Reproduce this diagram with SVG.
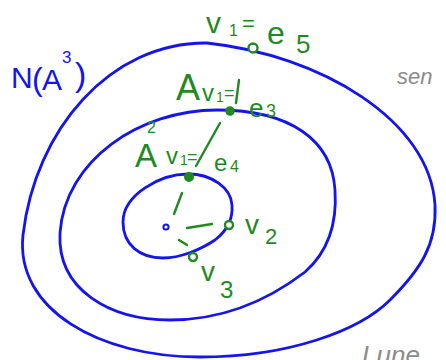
<svg xmlns="http://www.w3.org/2000/svg" width="446" height="360" viewBox="0 0 446 360">
<style>
.ring{fill:none;stroke:#1414f0;stroke-width:2.8;stroke-linecap:round;stroke-linejoin:round}
.g{fill:none;stroke:#1f8a1f;stroke-width:2.4;stroke-linecap:round}
.gd{fill:#1f8a1f;stroke:#1f8a1f;stroke-width:2}
.go{fill:#fff;stroke:#1f8a1f;stroke-width:2.4}
.gt{fill:#1f8a1f;font-family:"Liberation Sans",Arial,sans-serif}
.bt{fill:#1414f0;font-family:"Liberation Sans",Arial,sans-serif}
.gray{fill:#8c8c8c;font-family:"Liberation Sans",Arial,sans-serif;font-style:italic}
</style>
<rect width="446" height="360" fill="#fff"/>
<g id="outer-ring">
<path class="ring" d="M207,43 C110,42 35,130 23,235 C15,310 100,357 200,357 C290,357 360,330 390,300 C420,270 437,245 435,205 C430,120 320,55 207,43 Z"/>
</g>
<g id="middle-ring">
<path class="ring" d="M217,110 C140,110 65,160 60,233 C57,290 110,320 170,320 C230,320 275,295 305,272 C330,250 337,220 335,190 C332,140 290,110 217,110 Z"/>
</g>
<g id="inner-ring">
<path class="ring" d="M188,174 C160,174 123,195 123,222 C123,245 140,258 163,258 C180,258 200,250 215,240 C228,230 233,218 232,205 C231,188 212,174 188,174 Z"/>
<circle cx="166" cy="227" r="2.6" fill="none" stroke="#1414f0" stroke-width="2"/>
</g>
<g id="connectors">
<path class="g" d="M182,193 L174,214"/>
<path class="g" d="M187,228 L212,224"/>
<path class="g" d="M179,240 L187,245"/>
<path class="g" d="M220,123 L196,166"/>
</g>
<g id="label-N">
<text class="bt" x="11" y="88" font-size="30">N</text>
<text class="bt" x="32" y="90" font-size="32">(</text>
<text class="bt" x="42" y="90" font-size="30">A</text>
<text class="bt" x="62" y="63" font-size="17">3</text>
<text class="bt" x="75" y="86" font-size="34">)</text>
</g>
<g id="v1-e5">
<circle class="go" cx="253" cy="48" r="4.5" stroke-width="3.2"/>
<text class="gt" x="206" y="33" font-size="30">v</text>
<text class="gt" x="229" y="36" font-size="16">1</text>
<text class="gt" x="242" y="31" font-size="22">=</text>
<text class="gt" x="267" y="44" font-size="32">e</text>
<text class="gt" x="296" y="53" font-size="26">5</text>
</g>
<g id="Av1-e3">
<circle class="gd" cx="230" cy="111" r="3.8"/>
<text class="gt" x="176" y="100" font-size="36">A</text>
<text class="gt" x="202" y="101" font-size="24">v</text>
<text class="gt" x="216" y="102" font-size="14">1</text>
<text class="gt" x="224" y="99" font-size="18">=</text>
<path class="g" d="M239,80 L236,103"/>
<text class="gt" x="249" y="117" font-size="26">e</text>
<text class="gt" x="266" y="117" font-size="18">3</text>
</g>
<g id="A2v1-e4">
<circle class="gd" cx="189" cy="177" r="4"/>
<text class="gt" x="147" y="133" font-size="16">2</text>
<text class="gt" x="135" y="167" font-size="33">A</text>
<text class="gt" x="166" y="164" font-size="24">v</text>
<text class="gt" x="180" y="165" font-size="14">1</text>
<text class="gt" x="187" y="163" font-size="18">=</text>
<text class="gt" x="214" y="171" font-size="24">e</text>
<text class="gt" x="230" y="172" font-size="16">4</text>
</g>
<g id="v2">
<circle class="go" cx="229" cy="225" r="4"/>
<text class="gt" x="245" y="234" font-size="28">v</text>
<text class="gt" x="265" y="244" font-size="22">2</text>
</g>
<g id="v3">
<circle class="go" cx="193" cy="257" r="4"/>
<text class="gt" x="201" y="281" font-size="28">v</text>
<text class="gt" x="220" y="298" font-size="24">3</text>
</g>
<g id="side-notes">
<text class="gray" x="397" y="84" font-size="22">sen</text>
<text class="gray" x="362" y="364" font-size="26">Lune</text>
</g>
</svg>
